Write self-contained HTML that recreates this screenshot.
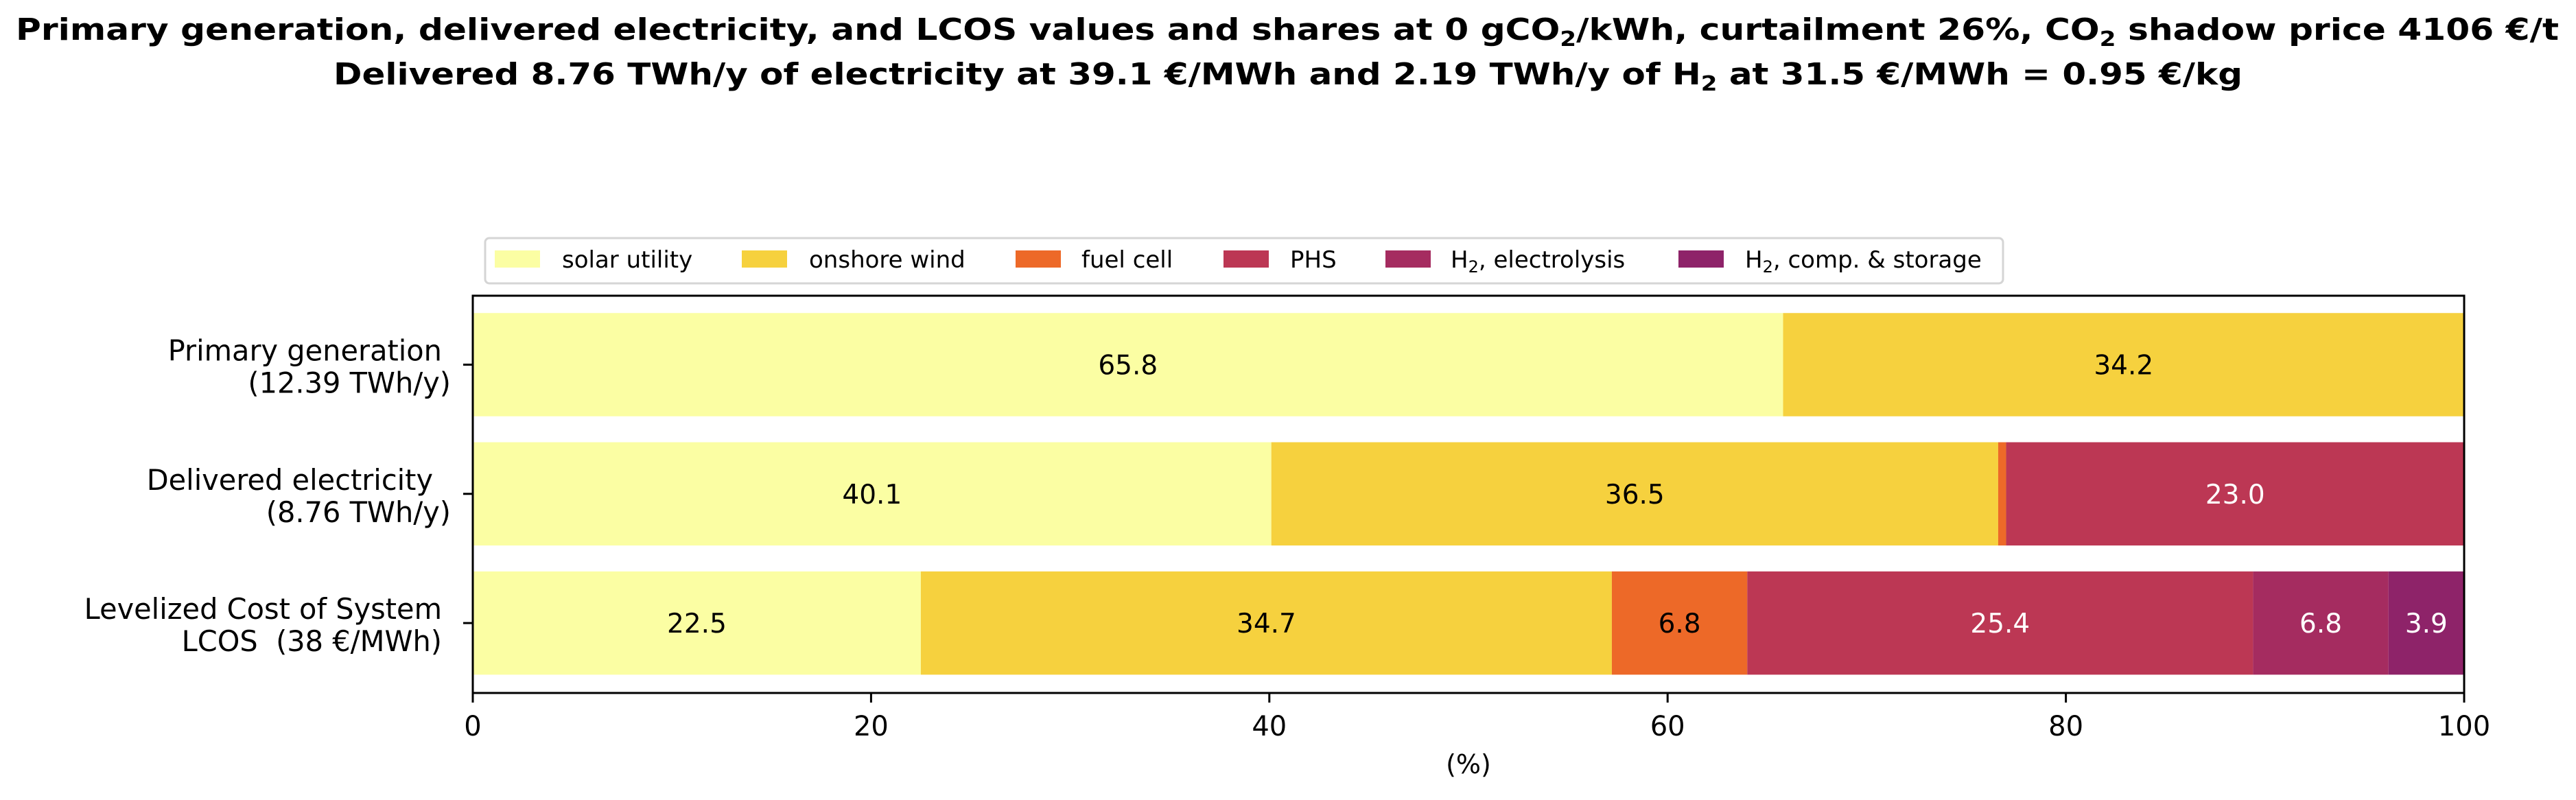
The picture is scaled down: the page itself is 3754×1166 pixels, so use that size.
<!DOCTYPE html>
<html><head><meta charset="utf-8"><style>
html,body{margin:0;padding:0;background:#fff;}
svg{display:block;font-family:"DejaVu Sans","Liberation Sans",sans-serif;}
text{white-space:pre;}
</style></head><body>
<svg id="chart" width="3754" height="1166" viewBox="0 0 3754 1166" xmlns="http://www.w3.org/2000/svg" xml:space="preserve">
<g font-weight="bold" text-anchor="middle" font-size="44">
<text x="1876" y="58" textLength="3706" lengthAdjust="spacingAndGlyphs">Primary generation, delivered electricity, and LCOS values and shares at 0 gCO<tspan font-size="30" dy="9">2</tspan><tspan dy="-9">/kWh, curtailment 26%, CO</tspan><tspan font-size="30" dy="9">2</tspan><tspan dy="-9"> shadow price 4106 €/t</tspan></text>
<text x="1877" y="123" textLength="2782" lengthAdjust="spacingAndGlyphs">Delivered 8.76 TWh/y of electricity at 39.1 €/MWh and 2.19 TWh/y of H<tspan font-size="30" dy="9">2</tspan><tspan dy="-9"> at 31.5 €/MWh = 0.95 €/kg</tspan></text>
</g>
<g id="legend">
<rect x="707" y="347" width="2212" height="66" rx="6" fill="#fff" stroke="#d5d5d5" stroke-width="3"/>
</g>
<g id="bars"></g>
<g id="axes"></g>
</svg>
<script>
const categories = ["Primary generation", "Delivered electricity", "Levelized Cost of System"];
const catLine2 = ["(12.39 TWh/y)", "(8.76 TWh/y)", "LCOS  (38 €/MWh)"];
const seriesNames = ["solar utility", "onshore wind", "fuel cell", "PHS", "H2, electrolysis", "H2, comp. & storage"];
const solar = [65.8, 40.1, 22.5];
const wind = [34.2, 36.5, 34.7];
const fuelCell = [0, 0.4, 6.8];
const phs = [0, 23.0, 25.4];
const h2Elec = [0, 0, 6.8];
const h2Comp = [0, 0, 3.9];
const xTicks = [0, 20, 40, 60, 80, 100];

const series = [solar, wind, fuelCell, phs, h2Elec, h2Comp];
const colors = ["#fbfea3", "#f6d13e", "#ed6928", "#bc3754", "#a52c60", "#8e2369"];
const textColors = ["#000", "#000", "#000", "#fff", "#fff", "#fff"];
const NS = "http://www.w3.org/2000/svg";
const L = 689, R = 3591, T = 431, B = 1010;
const xS = v => L + (v / 100) * (R - L);
const rowC = i => 531.5 + i * 188.3;
const barH = 150.5;
function mk(tag, attrs, parent) { const e = document.createElementNS(NS, tag); for (const k in attrs) e.setAttribute(k, attrs[k]); parent.appendChild(e); return e; }
const bars = document.getElementById('bars');
const axes = document.getElementById('axes');
const legend = document.getElementById('legend');

for (let i = 0; i < categories.length; i++) {
  let acc = 0;
  for (let s = 0; s < series.length; s++) {
    const v = series[s][i];
    if (v <= 0) continue;
    const x0 = xS(acc), x1 = xS(Math.min(acc + v, 100));
    const r = mk('rect', { x: x0, y: rowC(i) - barH / 2, width: Math.max(0, x1 - x0), height: barH, fill: colors[s] }, bars);
    
    
    if (v >= 2) {
      const t = mk('text', { x: (x0 + x1) / 2, y: rowC(i) + 14, 'text-anchor': 'middle', 'font-size': 39, fill: textColors[s] }, bars);
      t.textContent = v.toFixed(1);
      
      
    }
    acc += v;
  }
}

const frame = mk('rect', { x: L, y: T, width: R - L, height: B - T, fill: 'none', stroke: '#000', 'stroke-width': 3 }, axes);



xTicks.forEach(v => {
  const ln = mk('line', { x1: xS(v), x2: xS(v), y1: B, y2: B + 14, stroke: '#000', 'stroke-width': 3 }, axes);
  
  
  const t = mk('text', { x: xS(v), y: 1072, 'text-anchor': 'middle', 'font-size': 40 }, axes);
  t.textContent = v;
  
  
});
const xt = mk('text', { x: (L + R) / 2, y: 1127, 'text-anchor': 'middle', 'font-size': 38 }, axes);
xt.textContent = '(%)';



const l1End = [644, 631, 644];
const l2End = [657, 657, 644];
categories.forEach((c, i) => {
  const ln = mk('line', { x1: L - 14, x2: L, y1: rowC(i), y2: rowC(i), stroke: '#000', 'stroke-width': 3 }, axes);
  
  
  const t1 = mk('text', { x: l1End[i], y: rowC(i) - 6, 'text-anchor': 'end', 'font-size': 41.5 }, axes);
  t1.textContent = c;
  
  
  const t2 = mk('text', { x: l2End[i], y: rowC(i) + 41, 'text-anchor': 'end', 'font-size': 41.5 }, axes);
  t2.textContent = catLine2[i];
  
  
});

const patchX = [721, 1081, 1480, 1783, 2019, 2446];
const textX = [819, 1179, 1576, 1880, 2114, 2543];
seriesNames.forEach((n, s) => {
  const p = mk('rect', { x: patchX[s], y: 365, width: 66, height: 25, fill: colors[s] }, legend);
  
  
  const t = mk('text', { x: textX[s], y: 390, 'font-size': 34 }, legend);
  
  
  if (n.startsWith('H2')) {
    t.appendChild(document.createTextNode('H'));
    const sub = mk('tspan', { 'font-size': 24, dy: 7 }, t); sub.textContent = '2';
    const rest = mk('tspan', { dy: -7 }, t); rest.textContent = n.slice(2);
  } else t.textContent = n;
});
</script>
</body></html>
